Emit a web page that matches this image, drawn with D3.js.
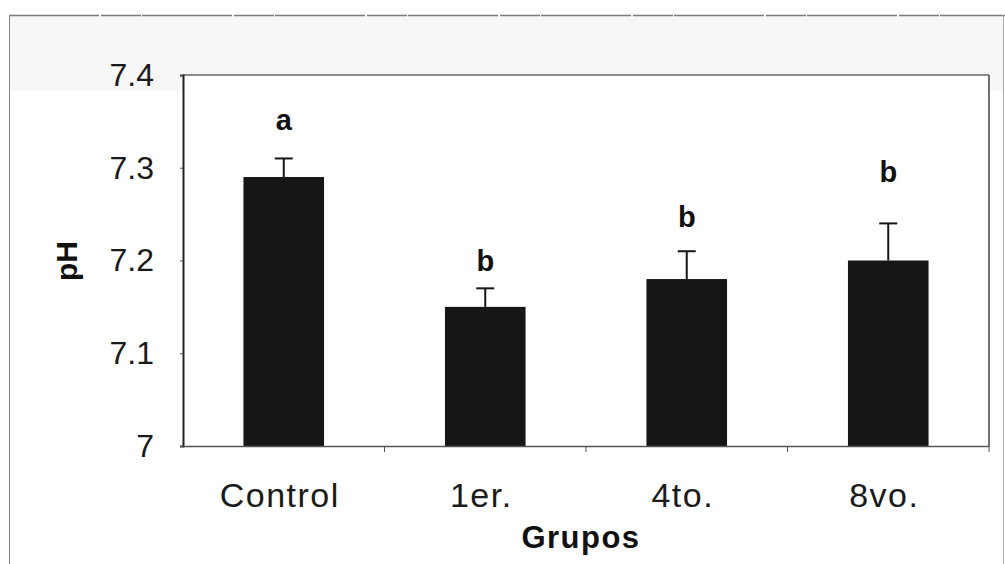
<!DOCTYPE html>
<html>
<head>
<meta charset="utf-8">
<script src="https://cdn.jsdelivr.net/npm/d3@7"></script>
<style>
  html, body { margin: 0; padding: 0; background: #ffffff; }
  svg { display: block; font-family: "Liberation Sans", Arial, sans-serif; }
</style>
</head>
<body>
<svg id="chart" width="1005" height="564"></svg>
<script>
// pH por grupo: media, límite superior del error y letra de significancia
const grupos = ["Control", "1er.", "4to.", "8vo."];
const phMedia = [7.29, 7.15, 7.18, 7.20];
const phError = [7.31, 7.17, 7.21, 7.24];
const letras = ["a", "b", "b", "b"];
const letraNivel = [7.341, 7.189, 7.236, 7.285];
const yTicks = [7, 7.1, 7.2, 7.3, 7.4];
const yTickLabels = ["7", "7.1", "7.2", "7.3", "7.4"];

const svg = d3.select("#chart");
const W = 1005, H = 564;
const m = { left: 183, right: 989, top: 75, bottom: 446 };

// marco exterior
svg.append("rect").attr("x", 0).attr("y", 0).attr("width", W).attr("height", H).attr("fill", "#ffffff");
svg.append("rect").attr("x", 9).attr("y", 16).attr("width", W - 10).attr("height", 75).attr("fill", "#f7f7f7");
svg.append("line").attr("x1", 9).attr("x2", W).attr("y1", 15.5).attr("y2", 15.5)
  .attr("stroke", "#7a7a7a").attr("stroke-width", 1.5).attr("stroke-dasharray", "90,2,40,1");
svg.append("line").attr("x1", 9.5).attr("x2", 9.5).attr("y1", 15).attr("y2", H)
  .attr("stroke", "#888").attr("stroke-width", 1);
svg.append("line").attr("x1", 1003.5).attr("x2", 1003.5).attr("y1", 15).attr("y2", H)
  .attr("stroke", "#aaa").attr("stroke-width", 1);

const x = d3.scaleBand().domain(grupos).range([m.left, m.right]).paddingInner(0.6).paddingOuter(0.3);
const xb = d3.scaleBand().domain(grupos).range([m.left, m.right]);
const y = d3.scaleLinear().domain([7, 7.4]).range([m.bottom, m.top]);

// área de trazado
svg.append("rect").attr("x", m.left).attr("y", m.top).attr("width", m.right - m.left)
  .attr("height", m.bottom - m.top).attr("fill", "#ffffff");

// barras
svg.selectAll("rect.bar").data(grupos).join("rect").attr("class", "bar")
  .attr("x", d => x(d)).attr("width", x.bandwidth())
  .attr("y", (d, i) => y(phMedia[i])).attr("height", (d, i) => y(7) - y(phMedia[i]))
  .attr("fill", "#161616");

// barras de error
const cap = 9;
const eb = svg.append("g").attr("stroke", "#161616").attr("stroke-width", 2);
grupos.forEach((g, i) => {
  const cx = x(g) + x.bandwidth() / 2;
  eb.append("line").attr("x1", cx).attr("x2", cx).attr("y1", y(phMedia[i])).attr("y2", y(phError[i]));
  eb.append("line").attr("x1", cx - cap).attr("x2", cx + cap).attr("y1", y(phError[i])).attr("y2", y(phError[i]));
});

// letras de significancia
svg.selectAll("text.letra").data(grupos).join("text").attr("class", "letra")
  .attr("x", d => x(d) + x.bandwidth() / 2).attr("y", (d, i) => y(letraNivel[i]))
  .attr("text-anchor", "middle").attr("font-size", 29).attr("font-weight", "bold")
  .attr("fill", "#111").text((d, i) => letras[i]);

// bordes del área
svg.append("line").attr("x1", m.left).attr("x2", m.right).attr("y1", m.top).attr("y2", m.top)
  .attr("stroke", "#666").attr("stroke-width", 1.5);
svg.append("line").attr("x1", m.right).attr("x2", m.right).attr("y1", m.top).attr("y2", m.bottom)
  .attr("stroke", "#444").attr("stroke-width", 1.5);

// eje Y
const yAxis = svg.append("g").attr("transform", `translate(${m.left},0)`)
  .call(d3.axisLeft(y).tickValues(yTicks).tickSize(3).tickPadding(26)
    .tickFormat((d, i) => yTickLabels[i]));
yAxis.select(".domain").attr("stroke", "#222").attr("stroke-width", 2);
yAxis.selectAll(".tick line").attr("stroke", "#555");
yAxis.selectAll(".tick text").attr("font-size", 32).attr("fill", "#1a1a1a")
  .attr("font-family", "'Liberation Sans', Arial, sans-serif");

// eje X
const xAxis = svg.append("g").attr("transform", `translate(0,${m.bottom})`)
  .call(d3.axisBottom(xb).tickSize(0).tickPadding(37));
xAxis.select(".domain").attr("stroke", "#555").attr("stroke-width", 1.5);
xAxis.selectAll(".tick text").attr("font-size", 34).attr("fill", "#1a1a1a")
  .attr("letter-spacing", 1.5).attr("dx", -4)
  .attr("font-family", "'Liberation Sans', Arial, sans-serif");
// marcas entre categorías
const bordes = grupos.slice(1).map(g => xb(g)).concat([m.right]);
svg.append("g").selectAll("line").data(bordes).join("line")
  .attr("x1", d => d).attr("x2", d => d).attr("y1", m.bottom).attr("y2", m.bottom + 6)
  .attr("stroke", "#555").attr("stroke-width", 1);

// títulos de ejes
svg.append("text").attr("x", 581).attr("y", 548).attr("text-anchor", "middle")
  .attr("font-size", 31).attr("font-weight", "bold").attr("letter-spacing", 1.5)
  .attr("fill", "#111").text("Grupos");
svg.append("text").attr("transform", "translate(77,261) rotate(-90)").attr("text-anchor", "middle")
  .attr("font-size", 30).attr("font-weight", "bold").attr("fill", "#111").text("pH");
</script>
</body>
</html>
